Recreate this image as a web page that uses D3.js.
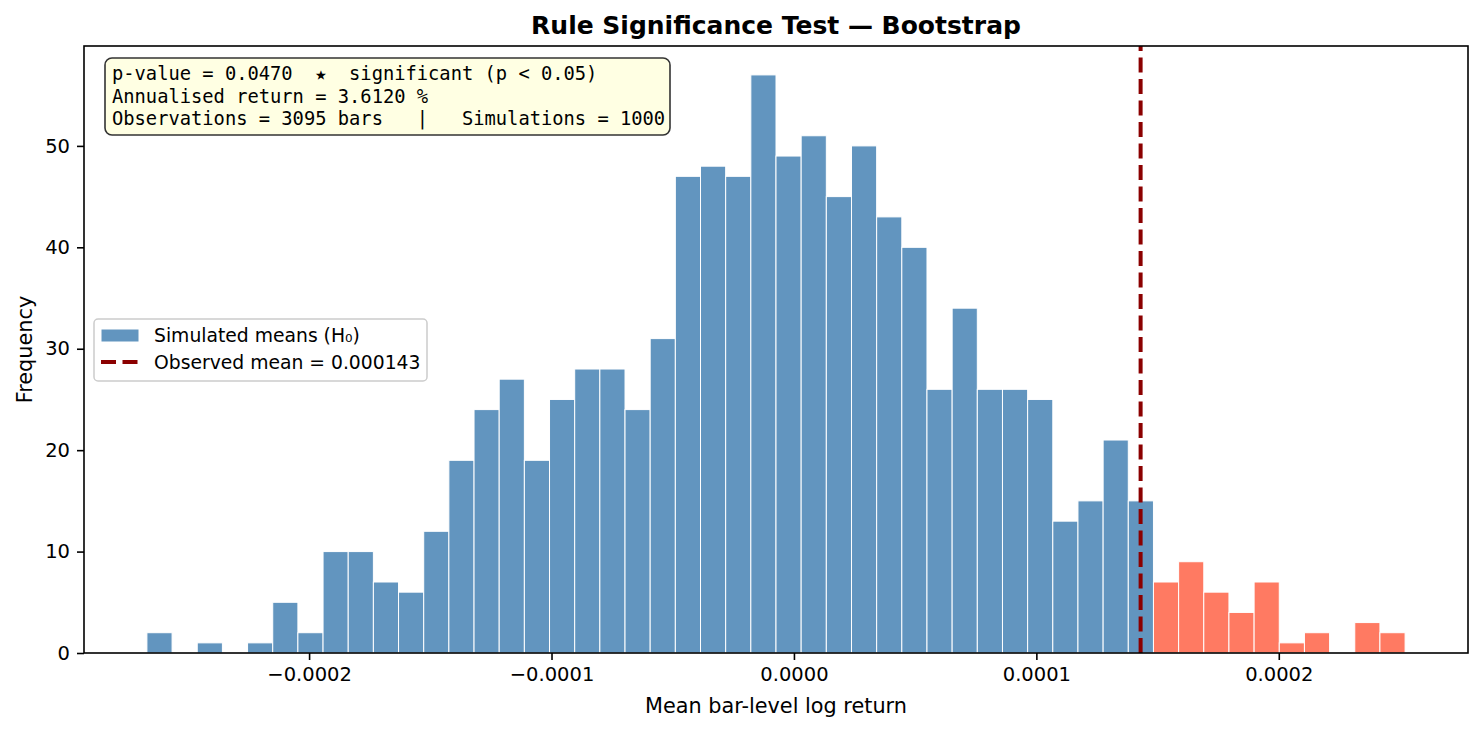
<!DOCTYPE html>
<html>
<head>
<meta charset="utf-8">
<script src="https://cdn.jsdelivr.net/npm/d3@7"></script>
<style>
  html, body { margin: 0; padding: 0; background: #fff; }
  svg { display: block; }
</style>
</head>
<body>
<svg id="chart" width="1484" height="731"></svg>
<script>
// histogram counts, 50 equal bins between binLo and binHi
const counts = [2, 0, 1, 0, 1, 5, 2, 10, 10, 7, 6, 12, 19, 24, 27, 19, 25, 28, 28, 24,
  31, 47, 48, 47, 57, 49, 51, 45, 50, 43, 40, 26, 34, 26, 26, 25, 13, 15, 21, 15,
  7, 9, 6, 4, 7, 1, 2, 0, 3, 2];
const binLo = -0.0002669;
const binHi = 0.0002521;
const observedMean = 0.000143;

const xTicks = [-0.0002, -0.0001, 0, 0.0001, 0.0002];
const yTicks = [0, 10, 20, 30, 40, 50];

const title = "Rule Significance Test \u2014 Bootstrap";
const xLabel = "Mean bar-level log return";
const yLabel = "Frequency";
const legendLabels = ["Simulated means (H\u2080)", "Observed mean = " + observedMean.toFixed(6)];
const infoLines = [
  "p-value = 0.0470  \u2605  significant (p < 0.05)",
  "Annualised return = 3.6120 %",
  "Observations = 3095 bars   |   Simulations = 1000"
];

const margin = {left: 84, right: 16, top: 46, bottom: 78};
const W = 1484, H = 731;
const svg = d3.select("#chart");
const sans = "'DejaVu Sans', sans-serif";
const mono = "'DejaVu Sans Mono', monospace";

const nb = counts.length;
const step = (binHi - binLo) / nb;
const bins = counts.map((c, i) => ({x0: binLo + i * step, x1: binLo + (i + 1) * step, n: c}));

const pad = (binHi - binLo) * 0.05;
const x = d3.scaleLinear()
  .domain([binLo - pad, binHi + pad])
  .range([margin.left, W - margin.right]);
const y = d3.scaleLinear()
  .domain([0, d3.max(counts) * 1.05])
  .range([H - margin.bottom, margin.top]);

const plotBottom = H - margin.bottom;

// bars
svg.append("g").selectAll("rect")
  .data(bins.filter(d => d.n > 0))
  .enter()
  .append("rect")
  .attr("x", d => x(d.x0))
  .attr("width", d => x(d.x1) - x(d.x0))
  .attr("y", d => y(d.n))
  .attr("height", d => y(0) - y(d.n))
  .attr("fill", d => d.x0 >= observedMean ? "#ff6347" : "#4682b4")
  .attr("fill-opacity", 0.85)
  .attr("stroke", "#fff")
  .attr("stroke-width", 1);

// observed mean line
svg.append("line")
  .attr("x1", x(observedMean)).attr("x2", x(observedMean))
  .attr("y1", plotBottom).attr("y2", margin.top)
  .attr("stroke", "#8b0000")
  .attr("stroke-width", 4)
  .attr("stroke-dasharray", "15,6.5");

// axes
const xAxis = d3.axisBottom(x).tickValues(xTicks).tickFormat(d3.format(".4f")).tickSize(7).tickPadding(7);
const yAxis = d3.axisLeft(y).tickValues(yTicks).tickSize(7).tickPadding(7);

svg.append("g")
  .attr("transform", `translate(0,${plotBottom})`)
  .call(xAxis)
  .call(g => g.select(".domain").remove())
  .call(g => g.selectAll("line").attr("stroke", "#000").attr("stroke-width", 1.6))
  .call(g => g.selectAll("text").attr("font-family", sans).attr("font-size", 19.5).attr("fill", "#000"));

svg.append("g")
  .attr("transform", `translate(${margin.left},0)`)
  .call(yAxis)
  .call(g => g.select(".domain").remove())
  .call(g => g.selectAll("line").attr("stroke", "#000").attr("stroke-width", 1.6))
  .call(g => g.selectAll("text").attr("font-family", sans).attr("font-size", 19.5).attr("fill", "#000"));

// frame
svg.append("rect")
  .attr("x", margin.left).attr("y", margin.top)
  .attr("width", W - margin.right - margin.left)
  .attr("height", plotBottom - margin.top)
  .attr("fill", "none")
  .attr("stroke", "#000")
  .attr("stroke-width", 1.6);

// titles
svg.append("text")
  .attr("x", (margin.left + W - margin.right) / 2)
  .attr("y", 33.5)
  .attr("text-anchor", "middle")
  .attr("font-family", sans)
  .attr("font-weight", "bold")
  .attr("font-size", 25)
  .text(title);

svg.append("text")
  .attr("x", (margin.left + W - margin.right) / 2)
  .attr("y", 713)
  .attr("text-anchor", "middle")
  .attr("font-family", sans)
  .attr("font-size", 20.8)
  .text(xLabel);

svg.append("text")
  .attr("transform", `translate(32,${(margin.top + plotBottom) / 2}) rotate(-90)`)
  .attr("text-anchor", "middle")
  .attr("font-family", sans)
  .attr("font-size", 20.8)
  .text(yLabel);

// info box
const info = svg.append("g");
info.append("rect")
  .attr("x", 105).attr("y", 58)
  .attr("width", 565).attr("height", 77)
  .attr("rx", 7).attr("ry", 7)
  .attr("fill", "#ffffe0")
  .attr("fill-opacity", 0.9)
  .attr("stroke", "#333")
  .attr("stroke-width", 1.6);
info.selectAll("text")
  .data(infoLines)
  .enter()
  .append("text")
  .attr("x", 112)
  .attr("y", (d, i) => 80 + i * 22.5)
  .attr("font-family", mono)
  .attr("font-size", 18.75)
  .style("white-space", "pre")
  .text(d => d);

// legend
const leg = svg.append("g");
leg.append("rect")
  .attr("x", 94).attr("y", 319)
  .attr("width", 333).attr("height", 62)
  .attr("rx", 4).attr("ry", 4)
  .attr("fill", "#fff").attr("fill-opacity", 0.8)
  .attr("stroke", "#ccc").attr("stroke-width", 1.5);
leg.append("rect")
  .attr("x", 101).attr("y", 329)
  .attr("width", 38).attr("height", 13)
  .attr("fill", "#4682b4").attr("fill-opacity", 0.85)
  .attr("stroke", "#fff").attr("stroke-width", 1);
leg.append("line")
  .attr("x1", 101).attr("x2", 139)
  .attr("y1", 362).attr("y2", 362)
  .attr("stroke", "#8b0000").attr("stroke-width", 4)
  .attr("stroke-dasharray", "15,6.5");
leg.selectAll("text.lab")
  .data(legendLabels)
  .enter()
  .append("text")
  .attr("class", "lab")
  .attr("x", 154)
  .attr("y", (d, i) => 342 + i * 27)
  .attr("font-family", sans)
  .attr("font-size", 18.75)
  .text(d => d);
</script>
</body>
</html>
